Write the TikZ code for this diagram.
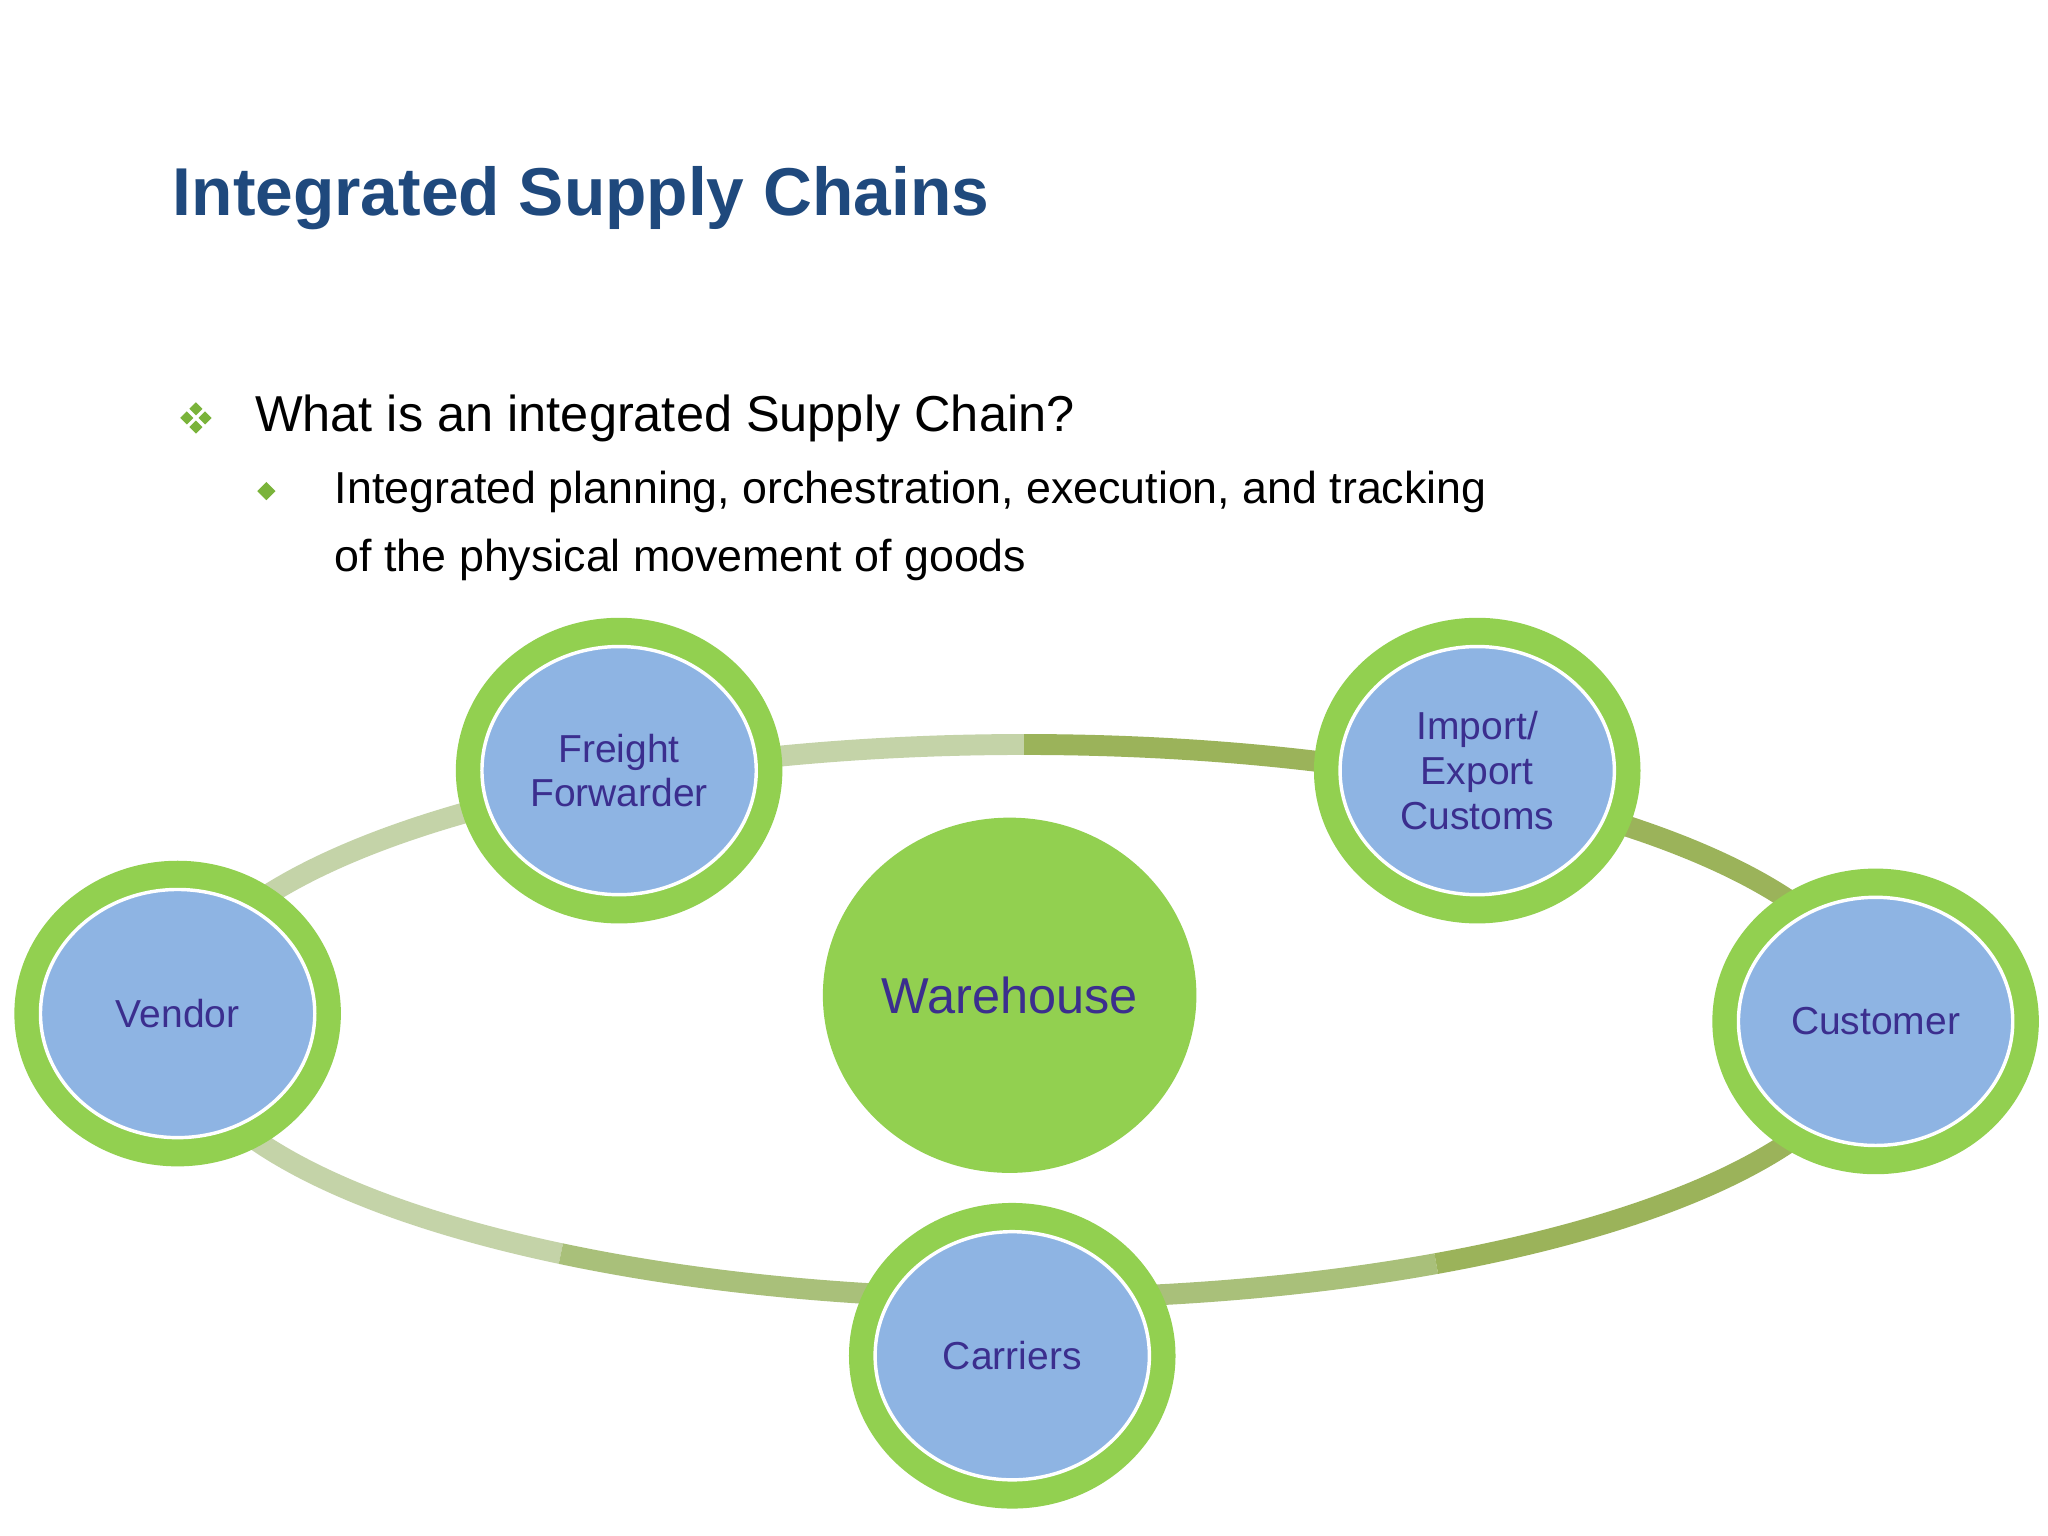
\documentclass[tikz,border=0pt]{standalone}
\usepackage{fontspec}
\setmainfont{Liberation Sans}
\begin{document}
\begin{tikzpicture}[x=0.02cm,y=-0.02cm,
  outer/.style={ellipse,fill=ringgreen,draw=none,minimum width=250*0.02cm,minimum height=234*0.02cm},
  inner/.style={ellipse,fill=nodeblue,draw=white,line width=1.5pt,minimum width=210*0.02cm,minimum height=190*0.02cm,text=labelc,font=\fontsize{17}{19.5}\selectfont,align=center,inner sep=0pt},
  ring/.style={line width=16*0.02cm}]
\definecolor{ringgreen}{HTML}{92D050}
\definecolor{nodeblue}{HTML}{8EB4E3}
\definecolor{labelc}{HTML}{3B2E8E}
\definecolor{titlec}{HTML}{1F497D}
\definecolor{bul}{HTML}{7AB33A}
\definecolor{lightr}{HTML}{C4D3A8}
\definecolor{midr}{HTML}{A9C07A}
\definecolor{darkr}{HTML}{9BB35A}
\usetikzlibrary{shapes.geometric}
\useasboundingbox (0,0) rectangle (1568,1176);
\fill[white] (0,0) rectangle (1568,1176);
\node[anchor=west,text=titlec,font=\bfseries\fontsize{29.5}{33}\selectfont,inner sep=0pt] (title) at (132,152) {Integrated Supply Chains};
\foreach \dx/\dy in {0/-7,-7/0,7/0,0/7} \fill[bul] (150+\dx,320+\dy) +(0,-5) -- +(5,0) -- +(0,5) -- +(-5,0) -- cycle;
\node[anchor=west,font=\fontsize{22}{25}\selectfont,inner sep=0pt] (q) at (195,320) {What is an integrated Supply Chain?};
\fill[bul] (204,369) -- (211,376) -- (204,383) -- (197,376) -- cycle;
\node[anchor=west,font=\fontsize{19.5}{22}\selectfont,inner sep=0pt] (l1) at (256,377) {Integrated planning, orchestration, execution, and tracking};
\node[anchor=west,font=\fontsize{19.5}{22}\selectfont,inner sep=0pt] (l2) at (256,429) {of the physical movement of goods};
\coordinate (c) at (784,782);
\draw[ring,lightr] (c) ++(123:651 and 212) arc[start angle=123,end angle=270,x radius=651,y radius=212];
\draw[ring,midr] (c) ++(61:651 and 212) arc[start angle=61,end angle=123,x radius=651,y radius=212];
\draw[ring,darkr] (c) ++(-90:651 and 212) arc[start angle=-90,end angle=61,x radius=651,y radius=212];
\node[ellipse,fill=ringgreen,inner sep=0pt,minimum width=286*0.02cm,minimum height=272*0.02cm,text=labelc,font=\fontsize{22}{25}\selectfont] (wh) at (773,762) {Warehouse};
\foreach \n/\p/\t in {ff/{474,590}/{Freight\\Forwarder},ie/{1131,590}/{Import/\\Export\\Customs},ve/{136,776}/{Vendor},cu/{1436,782}/{Customer},ca/{775,1038}/{Carriers}}{
  \node[outer] (\n o) at (\p) {};
  \node[inner] (\n) at (\p) {\t};
}
\end{tikzpicture}
\end{document}
